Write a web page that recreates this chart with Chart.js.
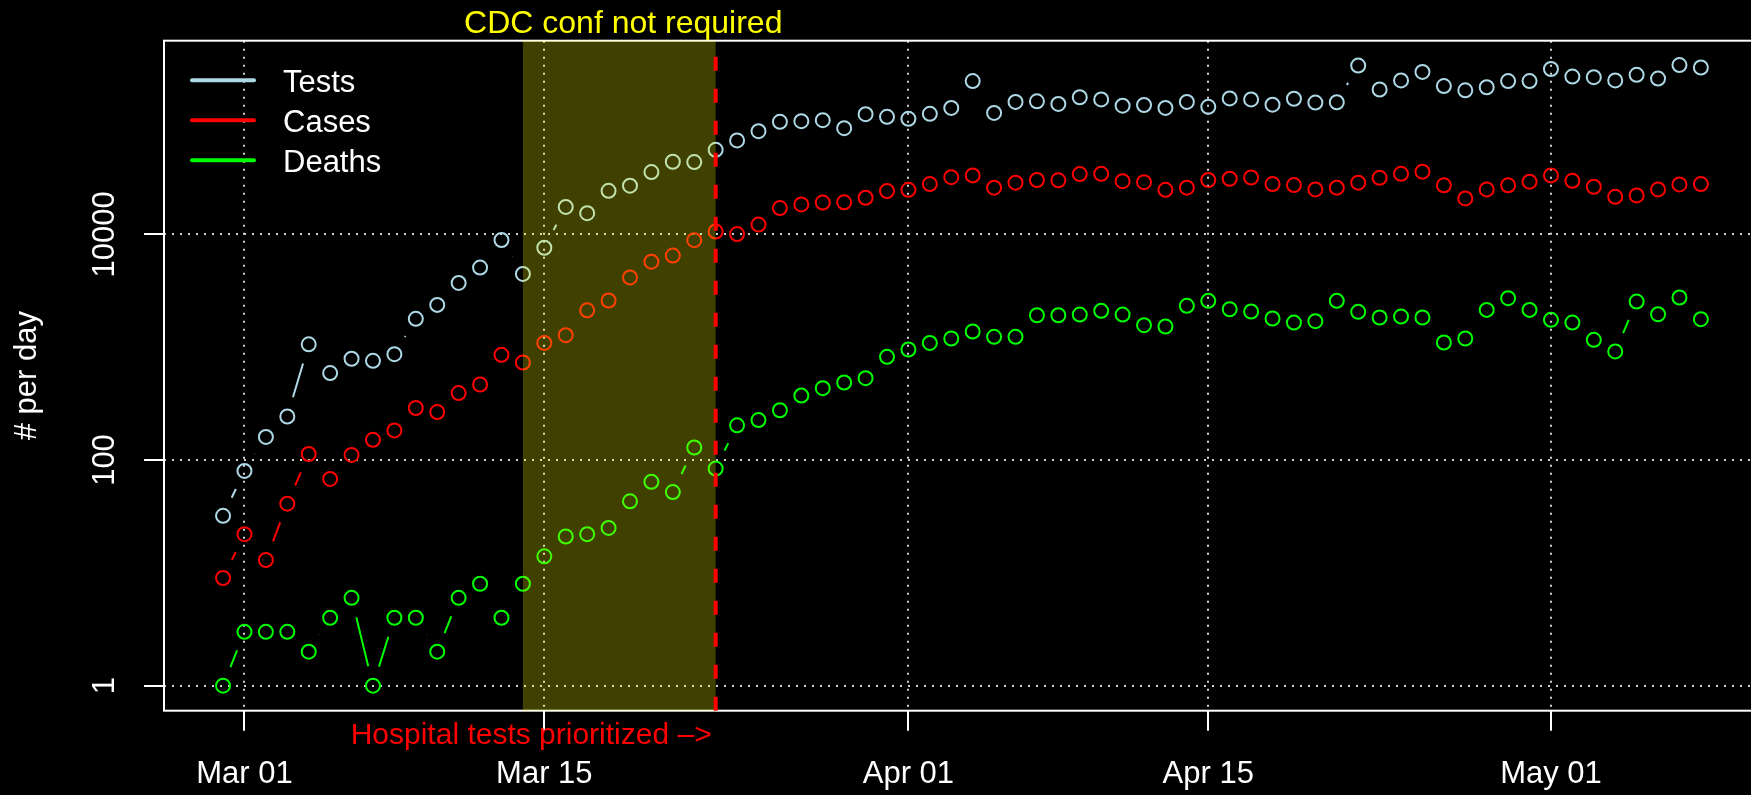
<!DOCTYPE html>
<html>
<head>
<meta charset="utf-8">
<script src="https://cdn.jsdelivr.net/npm/chart.js@4.4.0/dist/chart.umd.min.js"></script>
<style>
  html, body { margin: 0; padding: 0; background: #000; overflow: hidden; }
  canvas { display: block; }
</style>
</head>
<body>
<canvas id="covidChart" width="1770" height="795"></canvas>
<script>
// days counted from Mar 01 (= 0); first observation is Feb 28
const firstDay = -1;

const tests = [
  32, 80, 160, 243, 1060, 589, 789, 757, 867, 1782, 2370, 3710, 5070, 8910, 4460,
  7600, 17500, 15400, 24300, 27000, 35600, 44000, 43700, 56100, 67900, 82000, 99300,
  100700, 102800, 87300, 116000, 110000,
  105600, 117000, 132000, 228000, 119000, 149000, 151000, 143000, 164000, 157000,
  138000, 140000, 132000, 149000, 135000, 160000, 157000, 141000, 159000, 147000,
  148000, 313000, 192000, 231000, 275000, 206000, 189000, 201000, 228000, 228000,
  292000, 250000, 247000, 231000, 259000, 240000, 316000, 301000
];

const cases = [
  9, 22, 13, 41, 113, 68, 111, 151, 183, 289, 266, 392, 467, 855, 731,
  1090, 1278, 2120, 2590, 4150, 5720, 6480, 8870, 10600, 10050, 12200, 17100,
  18400, 19100, 19200, 21100, 24200,
  24800, 27900, 32100, 33300, 25900, 28700, 30300, 30100, 34200, 34400,
  29600, 29000, 24800, 25900, 30300, 31100, 31900, 27900, 27300, 25000,
  25900, 28700, 31700, 34400, 35900, 27200, 20800, 25000, 27200, 29300,
  33300, 29800, 26400, 21500, 22100, 25000, 27700, 27900
];

const deaths = [
  1, 3, 3, 3, 2, 4, 6, 1, 4, 4, 2, 6, 8, 4, 8,
  14, 21, 22, 25, 43, 64, 52, 129, 84, 203, 226, 276,
  372, 433, 486, 531, 821,
  953, 1091, 1194, 1377, 1234, 1234, 1919, 1919, 1944, 2097,
  1944, 1567, 1525, 2323, 2572, 2168, 2070, 1795, 1653, 1698,
  2572, 2057, 1832, 1868, 1832, 1100, 1193, 2140, 2715, 2140,
  1746, 1653, 1161, 916, 2535, 1958, 2754, 1771
];

const seriesNames = ['Tests', 'Cases', 'Deaths'];
const seriesColors = ['#ADD8E6', '#FF0000', '#00FF00'];

const tickDays = [0, 14, 31, 45, 61];
const tickLabels = ['Mar 01', 'Mar 15', 'Apr 01', 'Apr 15', 'May 01'];
const yTicks = [1, 100, 10000];
const yTickLabels = ['1', '100', '10000'];

// CDC confirmation dropped Mar 14 -> Mar 23, hospital priority from Mar 23
const band = [13, 22];
const markerDay = 22;

const FONT = '"Liberation Sans", Arial, Helvetica, sans-serif';
const GAP = 20;

function toPoints(values) {
  return values.map((v, i) => ({ x: firstDay + i, y: v }));
}

const rPlot = {
  id: 'rPlot',
  beforeDatasetsDraw(chart) {
    const { ctx, chartArea: a } = chart;
    ctx.save();
    ctx.strokeStyle = '#fff';
    ctx.lineWidth = 2;
    ctx.strokeRect(a.left, a.top, a.right - a.left, a.bottom - a.top);
    ctx.restore();

    // type = "b": segments that stop short of the points
    ctx.save();
    ctx.beginPath();
    ctx.rect(a.left, a.top, a.right - a.left, a.bottom - a.top);
    ctx.clip();
    chart.data.datasets.forEach((ds, i) => {
      const pts = chart.getDatasetMeta(i).data;
      ctx.strokeStyle = ds.borderColor;
      ctx.lineWidth = 2;
      ctx.beginPath();
      for (let k = 1; k < pts.length; k++) {
        const p0 = pts[k - 1], p1 = pts[k];
        const dx = p1.x - p0.x, dy = p1.y - p0.y;
        const d = Math.hypot(dx, dy);
        if (d <= 2 * GAP) continue;
        const ux = dx / d, uy = dy / d;
        ctx.moveTo(p0.x + ux * GAP, p0.y + uy * GAP);
        ctx.lineTo(p1.x - ux * GAP, p1.y - uy * GAP);
      }
      ctx.stroke();
    });
    ctx.restore();
  },
  afterDatasetsDraw(chart) {
    const { ctx, chartArea: a, scales } = chart;
    const xs = scales.x, ys = scales.y;
    const x0 = xs.getPixelForValue(band[0]);
    const x1 = xs.getPixelForValue(band[1]);

    ctx.save();
    ctx.fillStyle = 'rgba(255,255,0,0.25)';
    ctx.fillRect(x0, a.top, x1 - x0, a.bottom - a.top);

    const xm = xs.getPixelForValue(markerDay);
    ctx.strokeStyle = '#FF0000';
    ctx.lineWidth = 4;
    ctx.setLineDash([14, 18]);
    ctx.beginPath();
    ctx.moveTo(xm, a.bottom);
    ctx.lineTo(xm, a.top);
    ctx.stroke();
    ctx.setLineDash([]);

    ctx.textBaseline = 'alphabetic';
    ctx.font = '32px ' + FONT;
    ctx.fillStyle = '#FFFF00';
    ctx.textAlign = 'center';
    ctx.fillText('CDC conf not required', (x0 + x1) / 2 + 4, 32.5);

    ctx.font = '30px ' + FONT;
    ctx.fillStyle = '#FF0000';
    ctx.textAlign = 'right';
    ctx.fillText('Hospital tests prioritized \u2013>', xm - 4, 744);

    // y tick labels, rotated as in base R
    ctx.font = '31px ' + FONT;
    ctx.fillStyle = '#fff';
    ctx.textAlign = 'center';
    ctx.textBaseline = 'middle';
    yTicks.forEach((v, i) => {
      ctx.save();
      ctx.translate(105, ys.getPixelForValue(v));
      ctx.rotate(-Math.PI / 2);
      ctx.fillText(yTickLabels[i], 0, 0);
      ctx.restore();
    });

    // legend
    ctx.textBaseline = 'alphabetic';
    chart.data.datasets.forEach((ds, i) => {
      const y = 80.3 + i * 40;
      ctx.strokeStyle = ds.borderColor;
      ctx.lineWidth = 4;
      ctx.lineCap = 'round';
      ctx.beginPath();
      ctx.moveTo(192, y);
      ctx.lineTo(254, y);
      ctx.stroke();
      ctx.fillStyle = '#fff';
      ctx.textAlign = 'left';
      ctx.fillText(ds.label, 283, y + 11.3);
    });
    ctx.restore();
  }
};

const gridStyle = {
  color: '#D3D3D3',
  lineWidth: 2,
  drawTicks: true,
  tickLength: 20,
  tickColor: '#fff',
  tickWidth: 2,
  tickBorderDash: []
};

new Chart(document.getElementById('covidChart'), {
  type: 'line',
  data: {
    datasets: [tests, cases, deaths].map((vals, i) => ({
      label: seriesNames[i],
      data: toPoints(vals),
      showLine: false,
      borderColor: seriesColors[i],
      pointBorderColor: seriesColors[i],
      pointBackgroundColor: 'rgba(0,0,0,0)',
      pointRadius: 7,
      pointBorderWidth: 2,
      pointHoverRadius: 7
    }))
  },
  options: {
    responsive: false,
    animation: false,
    devicePixelRatio: 1,
    events: [],
    layout: { padding: { top: 40.7, left: 0, right: 10, bottom: 0 } },
    plugins: { legend: { display: false }, tooltip: { enabled: false } },
    scales: {
      x: {
        type: 'linear',
        min: -3.757,
        max: 70.76,
        afterFit(s) { s.height = 84.3; },
        afterBuildTicks(s) { s.ticks = tickDays.map(v => ({ value: v })); },
        ticks: {
          autoSkip: false,
          maxRotation: 0,
          padding: 25,
          color: '#fff',
          font: { family: FONT, size: 31 },
          callback: v => tickLabels[tickDays.indexOf(v)]
        },
        grid: gridStyle,
        border: { display: false, dash: [2, 6] }
      },
      y: {
        type: 'logarithmic',
        min: 0.604,
        max: 520000,
        afterFit(s) { s.width = 164; },
        afterBuildTicks(s) { s.ticks = yTicks.map(v => ({ value: v })); },
        ticks: { display: false },
        grid: gridStyle,
        border: { display: false, dash: [2, 6] },
        title: {
          display: true,
          text: '# per day',
          color: '#fff',
          font: { family: FONT, size: 31 },
          padding: { top: 9, bottom: 0 }
        }
      }
    }
  },
  plugins: [rPlot]
});
</script>
</body>
</html>
